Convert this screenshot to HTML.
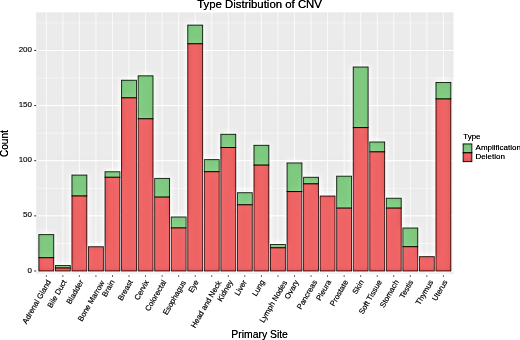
<!DOCTYPE html><html><head><meta charset="utf-8"><style>html,body{margin:0;padding:0;background:#fff;width:520px;height:340px;overflow:hidden}svg{display:block}text{font-family:"Liberation Sans", sans-serif}</style></head><body>
<svg width="520" height="340" viewBox="0 0 520 340">
<defs><filter id="f" filterUnits="userSpaceOnUse" x="-30" y="-30" width="580" height="400" color-interpolation-filters="sRGB"><feColorMatrix in="SourceGraphic" type="matrix" values="0.299 0.587 0.114 0 0 0.299 0.587 0.114 0 0 0.299 0.587 0.114 0 0 0 0 0 1 0" result="L"/><feGaussianBlur in="L" stdDeviation="3.0" result="B"/><feComposite in="L" in2="B" operator="arithmetic" k1="0" k2="0.3" k3="-0.3" k4="1" result="D"/><feComposite in="B" in2="L" operator="arithmetic" k1="0" k2="0.3" k3="-0.3" k4="1" result="E"/><feComposite in="SourceGraphic" in2="D" operator="arithmetic" k1="0" k2="1" k3="1" k4="-1" result="X"/><feComposite in="X" in2="E" operator="arithmetic" k1="0" k2="1" k3="-1" k4="1" result="Y"/><feGaussianBlur in="Y" stdDeviation="0.45"/></filter></defs>
<g filter="url(#f)">
<rect x="-30" y="-30" width="580" height="400" fill="#fff"/>
<rect x="36.2" y="12.3" width="417.30" height="261.80" fill="#EBEBEB"/>
<line x1="36.2" x2="453.5" y1="243.43" y2="243.43" stroke="#fff" stroke-width="0.5" stroke-opacity="0.75"/>
<line x1="36.2" x2="453.5" y1="188.30" y2="188.30" stroke="#fff" stroke-width="0.5" stroke-opacity="0.75"/>
<line x1="36.2" x2="453.5" y1="133.16" y2="133.16" stroke="#fff" stroke-width="0.5" stroke-opacity="0.75"/>
<line x1="36.2" x2="453.5" y1="78.03" y2="78.03" stroke="#fff" stroke-width="0.5" stroke-opacity="0.75"/>
<line x1="36.2" x2="453.5" y1="22.89" y2="22.89" stroke="#fff" stroke-width="0.5" stroke-opacity="0.75"/>
<line x1="36.2" x2="453.5" y1="271.00" y2="271.00" stroke="#fff" stroke-width="1.0" stroke-opacity="0.9"/>
<line x1="36.2" x2="453.5" y1="215.87" y2="215.87" stroke="#fff" stroke-width="1.0" stroke-opacity="0.9"/>
<line x1="36.2" x2="453.5" y1="160.73" y2="160.73" stroke="#fff" stroke-width="1.0" stroke-opacity="0.9"/>
<line x1="36.2" x2="453.5" y1="105.59" y2="105.59" stroke="#fff" stroke-width="1.0" stroke-opacity="0.9"/>
<line x1="36.2" x2="453.5" y1="50.46" y2="50.46" stroke="#fff" stroke-width="1.0" stroke-opacity="0.9"/>
<line x1="46.30" x2="46.30" y1="12.3" y2="274.1" stroke="#fff" stroke-width="0.9" stroke-opacity="0.7"/>
<line x1="62.85" x2="62.85" y1="12.3" y2="274.1" stroke="#fff" stroke-width="0.9" stroke-opacity="0.7"/>
<line x1="79.39" x2="79.39" y1="12.3" y2="274.1" stroke="#fff" stroke-width="0.9" stroke-opacity="0.7"/>
<line x1="95.94" x2="95.94" y1="12.3" y2="274.1" stroke="#fff" stroke-width="0.9" stroke-opacity="0.7"/>
<line x1="112.48" x2="112.48" y1="12.3" y2="274.1" stroke="#fff" stroke-width="0.9" stroke-opacity="0.7"/>
<line x1="129.03" x2="129.03" y1="12.3" y2="274.1" stroke="#fff" stroke-width="0.9" stroke-opacity="0.7"/>
<line x1="145.58" x2="145.58" y1="12.3" y2="274.1" stroke="#fff" stroke-width="0.9" stroke-opacity="0.7"/>
<line x1="162.12" x2="162.12" y1="12.3" y2="274.1" stroke="#fff" stroke-width="0.9" stroke-opacity="0.7"/>
<line x1="178.67" x2="178.67" y1="12.3" y2="274.1" stroke="#fff" stroke-width="0.9" stroke-opacity="0.7"/>
<line x1="195.21" x2="195.21" y1="12.3" y2="274.1" stroke="#fff" stroke-width="0.9" stroke-opacity="0.7"/>
<line x1="211.76" x2="211.76" y1="12.3" y2="274.1" stroke="#fff" stroke-width="0.9" stroke-opacity="0.7"/>
<line x1="228.31" x2="228.31" y1="12.3" y2="274.1" stroke="#fff" stroke-width="0.9" stroke-opacity="0.7"/>
<line x1="244.85" x2="244.85" y1="12.3" y2="274.1" stroke="#fff" stroke-width="0.9" stroke-opacity="0.7"/>
<line x1="261.40" x2="261.40" y1="12.3" y2="274.1" stroke="#fff" stroke-width="0.9" stroke-opacity="0.7"/>
<line x1="277.94" x2="277.94" y1="12.3" y2="274.1" stroke="#fff" stroke-width="0.9" stroke-opacity="0.7"/>
<line x1="294.49" x2="294.49" y1="12.3" y2="274.1" stroke="#fff" stroke-width="0.9" stroke-opacity="0.7"/>
<line x1="311.04" x2="311.04" y1="12.3" y2="274.1" stroke="#fff" stroke-width="0.9" stroke-opacity="0.7"/>
<line x1="327.58" x2="327.58" y1="12.3" y2="274.1" stroke="#fff" stroke-width="0.9" stroke-opacity="0.7"/>
<line x1="344.13" x2="344.13" y1="12.3" y2="274.1" stroke="#fff" stroke-width="0.9" stroke-opacity="0.7"/>
<line x1="360.67" x2="360.67" y1="12.3" y2="274.1" stroke="#fff" stroke-width="0.9" stroke-opacity="0.7"/>
<line x1="377.22" x2="377.22" y1="12.3" y2="274.1" stroke="#fff" stroke-width="0.9" stroke-opacity="0.7"/>
<line x1="393.77" x2="393.77" y1="12.3" y2="274.1" stroke="#fff" stroke-width="0.9" stroke-opacity="0.7"/>
<line x1="410.31" x2="410.31" y1="12.3" y2="274.1" stroke="#fff" stroke-width="0.9" stroke-opacity="0.7"/>
<line x1="426.86" x2="426.86" y1="12.3" y2="274.1" stroke="#fff" stroke-width="0.9" stroke-opacity="0.7"/>
<line x1="443.40" x2="443.40" y1="12.3" y2="274.1" stroke="#fff" stroke-width="0.9" stroke-opacity="0.7"/>
<rect x="38.85" y="234.61" width="14.9" height="23.16" fill="#7FC87F" stroke="#000000" stroke-opacity="0.72" stroke-width="0.9"/>
<rect x="38.85" y="257.77" width="14.9" height="13.23" fill="#EE6363" stroke="#000000" stroke-opacity="0.72" stroke-width="0.9"/>
<rect x="55.40" y="265.49" width="14.9" height="2.54" fill="#7FC87F" stroke="#000000" stroke-opacity="0.72" stroke-width="0.9"/>
<rect x="55.40" y="268.02" width="14.9" height="2.98" fill="#EE6363" stroke="#000000" stroke-opacity="0.72" stroke-width="0.9"/>
<rect x="71.94" y="175.07" width="14.9" height="20.95" fill="#7FC87F" stroke="#000000" stroke-opacity="0.72" stroke-width="0.9"/>
<rect x="71.94" y="196.02" width="14.9" height="74.98" fill="#EE6363" stroke="#000000" stroke-opacity="0.72" stroke-width="0.9"/>
<rect x="88.49" y="246.74" width="14.9" height="24.26" fill="#EE6363" stroke="#000000" stroke-opacity="0.72" stroke-width="0.9"/>
<rect x="105.03" y="171.76" width="14.9" height="5.51" fill="#7FC87F" stroke="#000000" stroke-opacity="0.72" stroke-width="0.9"/>
<rect x="105.03" y="177.27" width="14.9" height="93.73" fill="#EE6363" stroke="#000000" stroke-opacity="0.72" stroke-width="0.9"/>
<rect x="121.58" y="80.23" width="14.9" height="17.64" fill="#7FC87F" stroke="#000000" stroke-opacity="0.72" stroke-width="0.9"/>
<rect x="121.58" y="97.88" width="14.9" height="173.12" fill="#EE6363" stroke="#000000" stroke-opacity="0.72" stroke-width="0.9"/>
<rect x="138.13" y="75.82" width="14.9" height="43.01" fill="#7FC87F" stroke="#000000" stroke-opacity="0.72" stroke-width="0.9"/>
<rect x="138.13" y="118.83" width="14.9" height="152.17" fill="#EE6363" stroke="#000000" stroke-opacity="0.72" stroke-width="0.9"/>
<rect x="154.67" y="178.37" width="14.9" height="18.75" fill="#7FC87F" stroke="#000000" stroke-opacity="0.72" stroke-width="0.9"/>
<rect x="154.67" y="197.12" width="14.9" height="73.88" fill="#EE6363" stroke="#000000" stroke-opacity="0.72" stroke-width="0.9"/>
<rect x="171.22" y="216.97" width="14.9" height="11.03" fill="#7FC87F" stroke="#000000" stroke-opacity="0.72" stroke-width="0.9"/>
<rect x="171.22" y="227.99" width="14.9" height="43.01" fill="#EE6363" stroke="#000000" stroke-opacity="0.72" stroke-width="0.9"/>
<rect x="187.76" y="25.10" width="14.9" height="18.75" fill="#7FC87F" stroke="#000000" stroke-opacity="0.72" stroke-width="0.9"/>
<rect x="187.76" y="43.84" width="14.9" height="227.16" fill="#EE6363" stroke="#000000" stroke-opacity="0.72" stroke-width="0.9"/>
<rect x="204.31" y="159.63" width="14.9" height="12.13" fill="#7FC87F" stroke="#000000" stroke-opacity="0.72" stroke-width="0.9"/>
<rect x="204.31" y="171.76" width="14.9" height="99.24" fill="#EE6363" stroke="#000000" stroke-opacity="0.72" stroke-width="0.9"/>
<rect x="220.86" y="134.27" width="14.9" height="13.23" fill="#7FC87F" stroke="#000000" stroke-opacity="0.72" stroke-width="0.9"/>
<rect x="220.86" y="147.50" width="14.9" height="123.50" fill="#EE6363" stroke="#000000" stroke-opacity="0.72" stroke-width="0.9"/>
<rect x="237.40" y="192.71" width="14.9" height="12.13" fill="#7FC87F" stroke="#000000" stroke-opacity="0.72" stroke-width="0.9"/>
<rect x="237.40" y="204.84" width="14.9" height="66.16" fill="#EE6363" stroke="#000000" stroke-opacity="0.72" stroke-width="0.9"/>
<rect x="253.95" y="145.29" width="14.9" height="19.85" fill="#7FC87F" stroke="#000000" stroke-opacity="0.72" stroke-width="0.9"/>
<rect x="253.95" y="165.14" width="14.9" height="105.86" fill="#EE6363" stroke="#000000" stroke-opacity="0.72" stroke-width="0.9"/>
<rect x="270.49" y="244.54" width="14.9" height="3.31" fill="#7FC87F" stroke="#000000" stroke-opacity="0.72" stroke-width="0.9"/>
<rect x="270.49" y="247.84" width="14.9" height="23.16" fill="#EE6363" stroke="#000000" stroke-opacity="0.72" stroke-width="0.9"/>
<rect x="287.04" y="162.94" width="14.9" height="28.67" fill="#7FC87F" stroke="#000000" stroke-opacity="0.72" stroke-width="0.9"/>
<rect x="287.04" y="191.61" width="14.9" height="79.39" fill="#EE6363" stroke="#000000" stroke-opacity="0.72" stroke-width="0.9"/>
<rect x="303.59" y="177.27" width="14.9" height="6.62" fill="#7FC87F" stroke="#000000" stroke-opacity="0.72" stroke-width="0.9"/>
<rect x="303.59" y="183.89" width="14.9" height="87.11" fill="#EE6363" stroke="#000000" stroke-opacity="0.72" stroke-width="0.9"/>
<rect x="320.13" y="196.02" width="14.9" height="74.98" fill="#EE6363" stroke="#000000" stroke-opacity="0.72" stroke-width="0.9"/>
<rect x="336.68" y="176.17" width="14.9" height="31.98" fill="#7FC87F" stroke="#000000" stroke-opacity="0.72" stroke-width="0.9"/>
<rect x="336.68" y="208.15" width="14.9" height="62.85" fill="#EE6363" stroke="#000000" stroke-opacity="0.72" stroke-width="0.9"/>
<rect x="353.22" y="67.00" width="14.9" height="60.65" fill="#7FC87F" stroke="#000000" stroke-opacity="0.72" stroke-width="0.9"/>
<rect x="353.22" y="127.65" width="14.9" height="143.35" fill="#EE6363" stroke="#000000" stroke-opacity="0.72" stroke-width="0.9"/>
<rect x="369.77" y="141.98" width="14.9" height="9.92" fill="#7FC87F" stroke="#000000" stroke-opacity="0.72" stroke-width="0.9"/>
<rect x="369.77" y="151.91" width="14.9" height="119.09" fill="#EE6363" stroke="#000000" stroke-opacity="0.72" stroke-width="0.9"/>
<rect x="386.32" y="198.22" width="14.9" height="9.92" fill="#7FC87F" stroke="#000000" stroke-opacity="0.72" stroke-width="0.9"/>
<rect x="386.32" y="208.15" width="14.9" height="62.85" fill="#EE6363" stroke="#000000" stroke-opacity="0.72" stroke-width="0.9"/>
<rect x="402.86" y="227.99" width="14.9" height="18.75" fill="#7FC87F" stroke="#000000" stroke-opacity="0.72" stroke-width="0.9"/>
<rect x="402.86" y="246.74" width="14.9" height="24.26" fill="#EE6363" stroke="#000000" stroke-opacity="0.72" stroke-width="0.9"/>
<rect x="419.41" y="256.66" width="14.9" height="14.34" fill="#EE6363" stroke="#000000" stroke-opacity="0.72" stroke-width="0.9"/>
<rect x="435.95" y="82.44" width="14.9" height="16.54" fill="#7FC87F" stroke="#000000" stroke-opacity="0.72" stroke-width="0.9"/>
<rect x="435.95" y="98.98" width="14.9" height="172.02" fill="#EE6363" stroke="#000000" stroke-opacity="0.72" stroke-width="0.9"/>
<line x1="34.20" x2="36.2" y1="271.00" y2="271.00" stroke="#444" stroke-width="0.9"/>
<text x="32.0" y="272.60" font-size="8" fill="#333333" stroke="#333333" stroke-width="0.15" text-anchor="end">0</text>
<line x1="34.20" x2="36.2" y1="215.87" y2="215.87" stroke="#444" stroke-width="0.9"/>
<text x="32.0" y="217.47" font-size="8" fill="#333333" stroke="#333333" stroke-width="0.15" text-anchor="end">50</text>
<line x1="34.20" x2="36.2" y1="160.73" y2="160.73" stroke="#444" stroke-width="0.9"/>
<text x="32.0" y="162.33" font-size="8" fill="#333333" stroke="#333333" stroke-width="0.15" text-anchor="end">100</text>
<line x1="34.20" x2="36.2" y1="105.59" y2="105.59" stroke="#444" stroke-width="0.9"/>
<text x="32.0" y="107.19" font-size="8" fill="#333333" stroke="#333333" stroke-width="0.15" text-anchor="end">150</text>
<line x1="34.20" x2="36.2" y1="50.46" y2="50.46" stroke="#444" stroke-width="0.9"/>
<text x="32.0" y="52.06" font-size="8" fill="#333333" stroke="#333333" stroke-width="0.15" text-anchor="end">200</text>
<line x1="46.30" x2="46.30" y1="275.10" y2="276.90" stroke="#666" stroke-width="0.9"/>
<line x1="62.85" x2="62.85" y1="275.10" y2="276.90" stroke="#666" stroke-width="0.9"/>
<line x1="79.39" x2="79.39" y1="275.10" y2="276.90" stroke="#666" stroke-width="0.9"/>
<line x1="95.94" x2="95.94" y1="275.10" y2="276.90" stroke="#666" stroke-width="0.9"/>
<line x1="112.48" x2="112.48" y1="275.10" y2="276.90" stroke="#666" stroke-width="0.9"/>
<line x1="129.03" x2="129.03" y1="275.10" y2="276.90" stroke="#666" stroke-width="0.9"/>
<line x1="145.58" x2="145.58" y1="275.10" y2="276.90" stroke="#666" stroke-width="0.9"/>
<line x1="162.12" x2="162.12" y1="275.10" y2="276.90" stroke="#666" stroke-width="0.9"/>
<line x1="178.67" x2="178.67" y1="275.10" y2="276.90" stroke="#666" stroke-width="0.9"/>
<line x1="195.21" x2="195.21" y1="275.10" y2="276.90" stroke="#666" stroke-width="0.9"/>
<line x1="211.76" x2="211.76" y1="275.10" y2="276.90" stroke="#666" stroke-width="0.9"/>
<line x1="228.31" x2="228.31" y1="275.10" y2="276.90" stroke="#666" stroke-width="0.9"/>
<line x1="244.85" x2="244.85" y1="275.10" y2="276.90" stroke="#666" stroke-width="0.9"/>
<line x1="261.40" x2="261.40" y1="275.10" y2="276.90" stroke="#666" stroke-width="0.9"/>
<line x1="277.94" x2="277.94" y1="275.10" y2="276.90" stroke="#666" stroke-width="0.9"/>
<line x1="294.49" x2="294.49" y1="275.10" y2="276.90" stroke="#666" stroke-width="0.9"/>
<line x1="311.04" x2="311.04" y1="275.10" y2="276.90" stroke="#666" stroke-width="0.9"/>
<line x1="327.58" x2="327.58" y1="275.10" y2="276.90" stroke="#666" stroke-width="0.9"/>
<line x1="344.13" x2="344.13" y1="275.10" y2="276.90" stroke="#666" stroke-width="0.9"/>
<line x1="360.67" x2="360.67" y1="275.10" y2="276.90" stroke="#666" stroke-width="0.9"/>
<line x1="377.22" x2="377.22" y1="275.10" y2="276.90" stroke="#666" stroke-width="0.9"/>
<line x1="393.77" x2="393.77" y1="275.10" y2="276.90" stroke="#666" stroke-width="0.9"/>
<line x1="410.31" x2="410.31" y1="275.10" y2="276.90" stroke="#666" stroke-width="0.9"/>
<line x1="426.86" x2="426.86" y1="275.10" y2="276.90" stroke="#666" stroke-width="0.9"/>
<line x1="443.40" x2="443.40" y1="275.10" y2="276.90" stroke="#666" stroke-width="0.9"/>
<text transform="translate(46.00,278.90) rotate(-60)" x="0" y="6.0" font-size="7.7" fill="#333333" stroke="#333333" stroke-width="0.2" text-anchor="end">Adrenal Gland</text>
<text transform="translate(61.65,278.90) rotate(-60)" x="0" y="6.0" font-size="7.7" fill="#333333" stroke="#333333" stroke-width="0.2" text-anchor="end">Bile Duct</text>
<text transform="translate(78.59,278.90) rotate(-60)" x="0" y="6.0" font-size="7.7" fill="#333333" stroke="#333333" stroke-width="0.2" text-anchor="end">Bladder</text>
<text transform="translate(99.64,279.40) rotate(-60)" x="0" y="6.0" font-size="7.7" fill="#333333" stroke="#333333" stroke-width="0.2" text-anchor="end">Bone Marrow</text>
<text transform="translate(109.68,278.90) rotate(-60)" x="0" y="6.0" font-size="7.7" fill="#333333" stroke="#333333" stroke-width="0.2" text-anchor="end">Brain</text>
<text transform="translate(127.83,278.90) rotate(-60)" x="0" y="6.0" font-size="7.7" fill="#333333" stroke="#333333" stroke-width="0.2" text-anchor="end">Breast</text>
<text transform="translate(144.08,278.90) rotate(-60)" x="0" y="6.0" font-size="7.7" fill="#333333" stroke="#333333" stroke-width="0.2" text-anchor="end">Cervix</text>
<text transform="translate(161.32,278.90) rotate(-60)" x="0" y="6.0" font-size="7.7" fill="#333333" stroke="#333333" stroke-width="0.2" text-anchor="end">Colorectal</text>
<text transform="translate(180.97,279.30) rotate(-60)" x="0" y="6.0" font-size="7.7" fill="#333333" stroke="#333333" stroke-width="0.2" text-anchor="end">Esophagus</text>
<text transform="translate(193.81,278.90) rotate(-60)" x="0" y="6.0" font-size="7.7" fill="#333333" stroke="#333333" stroke-width="0.2" text-anchor="end">Eye</text>
<text transform="translate(216.36,279.70) rotate(-60)" x="0" y="6.0" font-size="7.7" fill="#333333" stroke="#333333" stroke-width="0.2" text-anchor="end">Head and Neck</text>
<text transform="translate(228.01,278.90) rotate(-60)" x="0" y="6.0" font-size="7.7" fill="#333333" stroke="#333333" stroke-width="0.2" text-anchor="end">Kidney</text>
<text transform="translate(241.85,278.90) rotate(-60)" x="0" y="6.0" font-size="7.7" fill="#333333" stroke="#333333" stroke-width="0.2" text-anchor="end">Liver</text>
<text transform="translate(259.60,278.90) rotate(-60)" x="0" y="6.0" font-size="7.7" fill="#333333" stroke="#333333" stroke-width="0.2" text-anchor="end">Lung</text>
<text transform="translate(282.14,279.40) rotate(-60)" x="0" y="6.0" font-size="7.7" fill="#333333" stroke="#333333" stroke-width="0.2" text-anchor="end">Lymph Nodes</text>
<text transform="translate(293.79,278.90) rotate(-60)" x="0" y="6.0" font-size="7.7" fill="#333333" stroke="#333333" stroke-width="0.2" text-anchor="end">Ovary</text>
<text transform="translate(312.14,278.90) rotate(-60)" x="0" y="6.0" font-size="7.7" fill="#333333" stroke="#333333" stroke-width="0.2" text-anchor="end">Pancreas</text>
<text transform="translate(326.18,278.90) rotate(-60)" x="0" y="6.0" font-size="7.7" fill="#333333" stroke="#333333" stroke-width="0.2" text-anchor="end">Pleura</text>
<text transform="translate(343.23,278.90) rotate(-60)" x="0" y="6.0" font-size="7.7" fill="#333333" stroke="#333333" stroke-width="0.2" text-anchor="end">Prostate</text>
<text transform="translate(358.87,278.90) rotate(-60)" x="0" y="6.0" font-size="7.7" fill="#333333" stroke="#333333" stroke-width="0.2" text-anchor="end">Skin</text>
<text transform="translate(376.82,278.90) rotate(-60)" x="0" y="6.0" font-size="7.7" fill="#333333" stroke="#333333" stroke-width="0.2" text-anchor="end">Soft Tissue</text>
<text transform="translate(393.87,278.90) rotate(-60)" x="0" y="6.0" font-size="7.7" fill="#333333" stroke="#333333" stroke-width="0.2" text-anchor="end">Stomach</text>
<text transform="translate(408.31,278.90) rotate(-60)" x="0" y="6.0" font-size="7.7" fill="#333333" stroke="#333333" stroke-width="0.2" text-anchor="end">Testis</text>
<text transform="translate(428.26,278.90) rotate(-60)" x="0" y="6.0" font-size="7.7" fill="#333333" stroke="#333333" stroke-width="0.2" text-anchor="end">Thymus</text>
<text transform="translate(442.50,278.90) rotate(-60)" x="0" y="6.0" font-size="7.7" fill="#333333" stroke="#333333" stroke-width="0.2" text-anchor="end">Uterus</text>
<text x="259.6" y="8.2" font-size="11.4" fill="#000" stroke="#000" stroke-width="0.2" text-anchor="middle">Type Distribution of CNV</text>
<text x="259.6" y="337.8" font-size="10.4" fill="#000" stroke="#000" stroke-width="0.15" text-anchor="middle">Primary Site</text>
<text transform="translate(8.0,143.6) rotate(-90)" x="0" y="0" font-size="10" fill="#000" stroke="#000" stroke-width="0.15" text-anchor="middle">Count</text>
<text x="463.3" y="138.9" font-size="7.9" fill="#000" stroke="#000" stroke-width="0.1">Type</text>
<rect x="463.1" y="143.9" width="8.8" height="8.9" fill="#7FC87F" stroke="#000000" stroke-opacity="0.72" stroke-width="1"/>
<rect x="463.1" y="152.8" width="8.8" height="8.9" fill="#EE6363" stroke="#000000" stroke-opacity="0.72" stroke-width="1"/>
<text x="475.6" y="149.5" font-size="8" fill="#000" stroke="#000" stroke-width="0.1">Amplification</text>
<text x="475.6" y="159.4" font-size="8" fill="#000" stroke="#000" stroke-width="0.1">Deletion</text>
</g></svg></body></html>
